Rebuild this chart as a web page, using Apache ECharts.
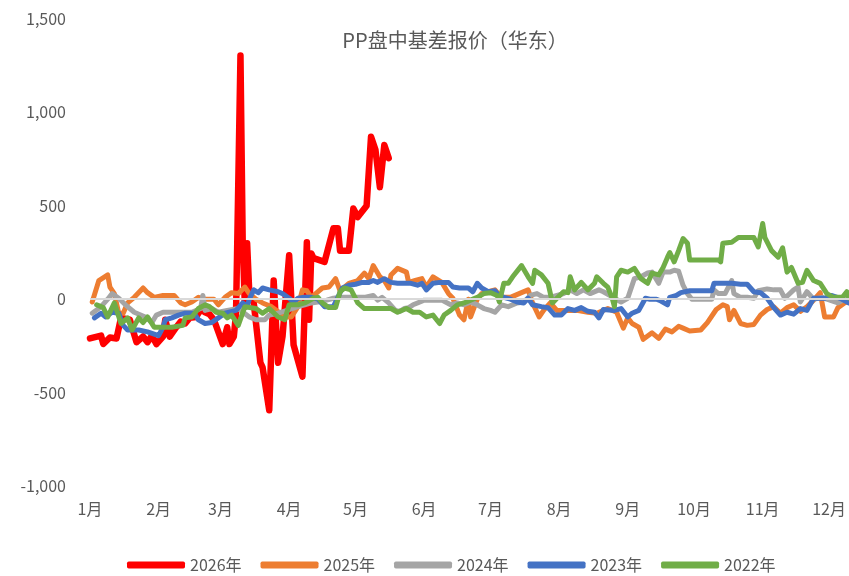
<!DOCTYPE html>
<html><head><meta charset="utf-8">
<script src="https://cdn.jsdelivr.net/npm/echarts@6/dist/echarts.min.js"></script>
<style>html,body{margin:0;padding:0;background:#fff}#c{width:849px;height:576px}</style>
</head><body><div id="c"></div>
<script>
const title = 'PP盘中基差报价（华东）';
const monthStarts = [0,31,59,90,120,151,181,212,243,273,304,334];
const monthLabels = ['1月','2月','3月','4月','5月','6月','7月','8月','9月','10月','11月','12月'];
const seriesNames = ['2026年','2025年','2024年','2023年','2022年'];
const seriesColors = ['#FF0000','#ED7D31','#A5A5A5','#4472C4','#70AD47'];

// day-of-year (0 = Jan 1) and basis values
const days2026 = [0,5,6,9,12,14,18,21,24,26,28,30,33,34,36,39,41,43,45,48,50,52,54,56,60,62,63,65,66,68,69,70,71,72,74,77,78,81,83,85,87,90,92,96,98,99,100,101,106,110,112,113,117,119,121,125,127,129,131,133,135];
const vals2026 = [-210,-195,-240,-205,-210,-100,-110,-230,-200,-230,-195,-240,-200,-110,-200,-150,-120,-130,-100,-95,-55,-70,-80,-110,-240,-150,-240,-200,-75,1305,315,-40,300,30,-20,-340,-365,-595,100,-340,-200,235,-245,-415,305,-110,245,220,200,380,380,260,260,485,440,500,870,800,600,825,755];

const days2025 = [1,4,8,9,11,13,15,17,20,24,26,29,33,38,41,43,46,49,52,56,58,61,64,67,70,72,75,78,82,86,88,91,94,96,98,100,105,108,111,113,117,121,124,126,128,131,133,135,136,139,143,144,147,150,152,155,159,162,164,167,169,171,172,175,177,180,183,186,190,195,198,200,203,205,208,211,216,220,225,229,234,238,241,243,245,248,250,254,257,260,263,266,268,271,276,279,283,286,288,289,291,294,297,300,303,306,309,312,315,318,321,324,327,330,332,336,338,341,343];
const vals2025 = [-15,100,130,65,30,-75,-75,-20,10,60,35,10,20,20,-20,-30,-15,10,0,0,-30,10,35,30,65,30,0,-20,-40,-75,-95,-95,-40,50,45,10,60,65,110,45,85,100,140,110,180,120,100,60,130,165,145,90,100,110,65,120,90,30,5,-85,-110,0,-95,0,30,40,50,10,10,35,50,-20,-95,-60,-20,-60,-60,-60,-70,-75,-50,-70,-155,-100,-130,-150,-215,-180,-210,-160,-175,-145,-155,-170,-165,-125,-55,-30,-40,-110,-60,-130,-140,-135,-85,-55,-40,-75,-45,-30,-65,-40,-5,35,-95,-95,-45,-20,-10];

const days2024 = [1,5,8,10,13,16,20,25,28,30,33,37,42,46,50,51,52,55,58,62,67,72,75,79,81,85,89,94,97,100,103,107,110,113,117,121,124,128,130,132,135,138,140,142,144,146,148,151,155,159,163,166,169,172,175,178,181,183,186,189,193,196,199,202,205,208,211,214,217,220,223,226,230,232,235,237,240,243,246,249,252,254,257,259,262,264,266,268,270,272,276,281,282,284,287,290,291,294,297,300,302,306,309,312,314,318,320,321,324,327,331,333,338,341,343];
const vals2024 = [-75,-40,0,30,5,-30,-70,-95,-125,-85,-70,-70,-70,-70,-50,20,-60,-50,-70,-60,-50,-95,-110,-110,-85,-75,-60,-40,-30,-20,-15,-5,5,10,10,10,10,20,-5,10,-20,-60,-65,-50,-45,-30,-20,-5,-5,-5,-30,-20,-30,-15,-30,-50,-60,-70,-30,-40,-20,-15,20,30,10,10,20,30,50,30,50,30,50,40,20,5,-15,5,110,120,140,145,85,145,145,155,150,75,30,0,0,0,50,30,30,100,30,10,10,5,45,55,50,50,5,50,65,-15,40,0,10,0,-20,0,5];

const days2023 = [2,5,7,10,13,15,17,22,26,31,33,34,37,40,43,47,49,52,55,58,61,66,69,71,72,74,76,78,81,85,87,90,92,94,97,100,103,106,110,112,114,117,120,123,126,128,130,133,136,139,142,145,148,150,152,155,158,162,164,167,171,173,175,177,180,183,184,187,190,193,196,198,200,204,207,210,213,216,219,222,225,228,230,232,237,240,243,245,248,251,253,256,258,261,262,265,267,271,276,281,282,285,290,294,297,300,303,306,309,312,315,318,321,324,327,332,335,339,343];
const vals2023 = [-100,-75,-95,-70,-75,-140,-165,-165,-175,-195,-150,-110,-100,-85,-75,-75,-110,-130,-125,-100,-75,-60,-20,-40,0,50,35,60,50,40,30,5,-15,5,10,10,0,-40,-40,10,60,75,80,90,90,100,90,110,90,85,85,85,75,85,50,85,90,90,65,60,60,40,85,60,40,45,30,10,0,-15,-20,5,-30,-40,-45,-85,-85,-50,-60,-45,-65,-70,-100,-55,-60,-50,-95,-75,-60,5,0,0,-10,-30,10,20,35,45,45,45,85,85,85,80,80,40,35,5,-45,-85,-70,-80,-50,-60,5,5,20,5,-20];

const days2022 = [3,6,8,10,11,14,17,19,22,24,26,29,33,37,42,43,46,49,52,54,57,60,62,64,67,70,75,78,81,85,88,90,94,97,101,103,105,108,111,113,115,118,121,124,128,132,136,139,143,146,149,152,155,158,160,163,166,169,172,175,178,181,184,185,187,189,191,195,198,200,201,204,207,209,211,214,216,217,219,222,225,228,229,232,234,236,237,238,240,243,246,249,252,254,257,259,261,262,264,266,268,270,271,276,281,284,285,286,290,293,297,300,302,304,305,308,311,313,315,317,320,322,324,327,330,333,336,340,342,343];
const vals2022 = [-30,-45,-95,-45,-20,-130,-100,-165,-100,-125,-95,-150,-150,-150,-140,-100,-95,-50,-30,-40,-70,-75,-100,-85,-140,-40,-50,-75,-50,-95,-110,-30,-30,-20,5,10,-20,-45,-45,40,60,50,-20,-50,-50,-50,-50,-70,-50,-70,-70,-95,-85,-130,-85,-60,-30,-20,-5,10,30,35,20,-15,85,85,120,180,120,85,155,130,85,-20,5,40,35,120,50,90,50,85,120,85,65,5,-40,120,155,145,165,110,85,140,130,170,225,250,200,260,325,300,210,210,210,210,200,300,305,330,330,330,280,405,330,260,225,275,145,170,85,90,155,100,85,30,10,10,40,5];

const allDays = [days2026, days2025, days2024, days2023, days2022];
const allVals = [vals2026, vals2025, vals2024, vals2023, vals2022];

const chart = echarts.init(document.getElementById('c'));
const FONT = "'Liberation Sans Narrow','Noto Sans CJK SC',sans-serif";
const series = seriesNames.map((n, i) => ({
  name: n,
  type: 'line',
  showSymbol: false,
  symbol: 'none',
  smooth: false,
  data: allDays[i].map((d, k) => [d, allVals[i][k]]),
  lineStyle: { width: i === 0 ? 6.5 : 5, color: seriesColors[i], cap: 'round', join: 'round' },
  itemStyle: { color: seriesColors[i] },
  animation: false
}));
series.unshift({
  type: 'line', data: [], silent: true, animation: false,
  markLine: { silent: true, symbol: 'none', label: { show: false },
    lineStyle: { color: '#D9D9D9', width: 2, type: 'solid' }, data: [{ yAxis: 0 }] }
});

chart.setOption({
  backgroundColor: '#fff',
  animation: false,
  title: { text: title, left: 450, textAlign: 'center', top: 25,
    textStyle: { fontFamily: FONT, fontSize: 20, fontWeight: 'normal', color: '#595959' } },
  grid: { left: 90, right: 0, top: 19, bottom: 90, containLabel: false },
  xAxis: {
    type: 'value', min: 0, max: 343,
    axisLine: { show: false, onZero: false }, axisTick: { show: false }, splitLine: { show: false },
    axisLabel: { customValues: monthStarts, margin: 15, color: '#595959', fontSize: 16, fontFamily: FONT,
      formatter: v => monthLabels[monthStarts.indexOf(v)] || '' }
  },
  yAxis: {
    type: 'value', min: -1000, max: 1500, interval: 500,
    axisLine: { show: false }, axisTick: { show: false }, splitLine: { show: false },
    axisLabel: { margin: 24, color: '#595959', fontSize: 16, fontFamily: FONT,
      formatter: v => v.toLocaleString('en-US') }
  },
  legend: {
    data: seriesNames, left: 122, bottom: -2, icon: 'roundRect', itemWidth: 58, itemHeight: 7,
    itemGap: 19, textStyle: { color: '#595959', fontSize: 16, fontFamily: FONT }
  },
  series: series
});
</script></body></html>
